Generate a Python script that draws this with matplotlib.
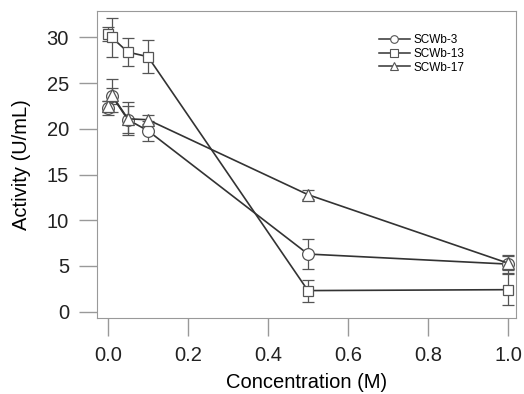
import matplotlib.pyplot as plt
from matplotlib.lines import Line2D

plt.rcParams['font.family'] = ['Liberation Sans', 'DejaVu Sans']

# Data
conc = [0.0, 0.01, 0.05, 0.1, 0.5, 1.0]
scwb3 = [22.3, 23.6, 21.0, 19.8, 6.3, 5.2]
scwb3_err = [0.8, 0.9, 1.5, 1.1, 1.6, 1.0]
scwb13 = [30.4, 30.0, 28.4, 27.9, 2.3, 2.4]
scwb13_err = [0.8, 2.1, 1.5, 1.8, 1.2, 1.7]
scwb17 = [22.5, 23.7, 21.1, 21.0, 12.8, 5.3]
scwb17_err = [0.6, 1.8, 1.8, 0.5, 0.5, 0.8]
labels = ['SCWb-3', 'SCWb-13', 'SCWb-17']

fig = plt.figure(figsize=(5.24, 3.94), dpi=100)
ax = fig.add_axes([96.7 / 524, 1 - 318 / 394, (516 - 96.7) / 524, (318 - 11) / 394])

style = dict(color='#333333', mfc='white', mec='#555555', mew=0.9, lw=1.2,
             ecolor='#555555', elinewidth=0.9, capsize=4, capthick=0.9)
ax.errorbar(conc, scwb3, yerr=scwb3_err, marker='o', ms=8.5, **style)
ax.errorbar(conc, scwb13, yerr=scwb13_err, marker='s', ms=6.8, **style)
ax.errorbar(conc, scwb17, yerr=scwb17_err, marker='^', ms=8, **style)

ax.set_xlim(-0.028, 1.02)
ax.set_ylim(-0.7, 32.9)
ax.set_xticks([0.0, 0.2, 0.4, 0.6, 0.8, 1.0])
ax.set_yticks([0, 5, 10, 15, 20, 25, 30])
ax.set_xlabel('Concentration (M)', fontsize=14.5, labelpad=6)
ax.set_ylabel('Activity (U/mL)', fontsize=14.5, labelpad=11)
for s in ax.spines.values():
    s.set_color('#999999')
ax.tick_params(direction='out', length=13, width=1, color='#999999', labelsize=14.5,
               pad=7, labelcolor='#222222')

handles = [Line2D([], [], color='#333333', lw=1.1, marker=m, ms=5.5, mfc='white',
                  mec='#555555', mew=0.8) for m in ['o', 's', '^']]
ax.legend(handles, labels, loc='upper left', bbox_to_anchor=(379 / 524, 1 - 34 / 394),
          bbox_transform=fig.transFigure, fontsize=8.5, frameon=False, borderpad=0,
          borderaxespad=0, handlelength=2.6, handletextpad=0.35, labelspacing=0.15)

fig.savefig('out.png', dpi=100)
